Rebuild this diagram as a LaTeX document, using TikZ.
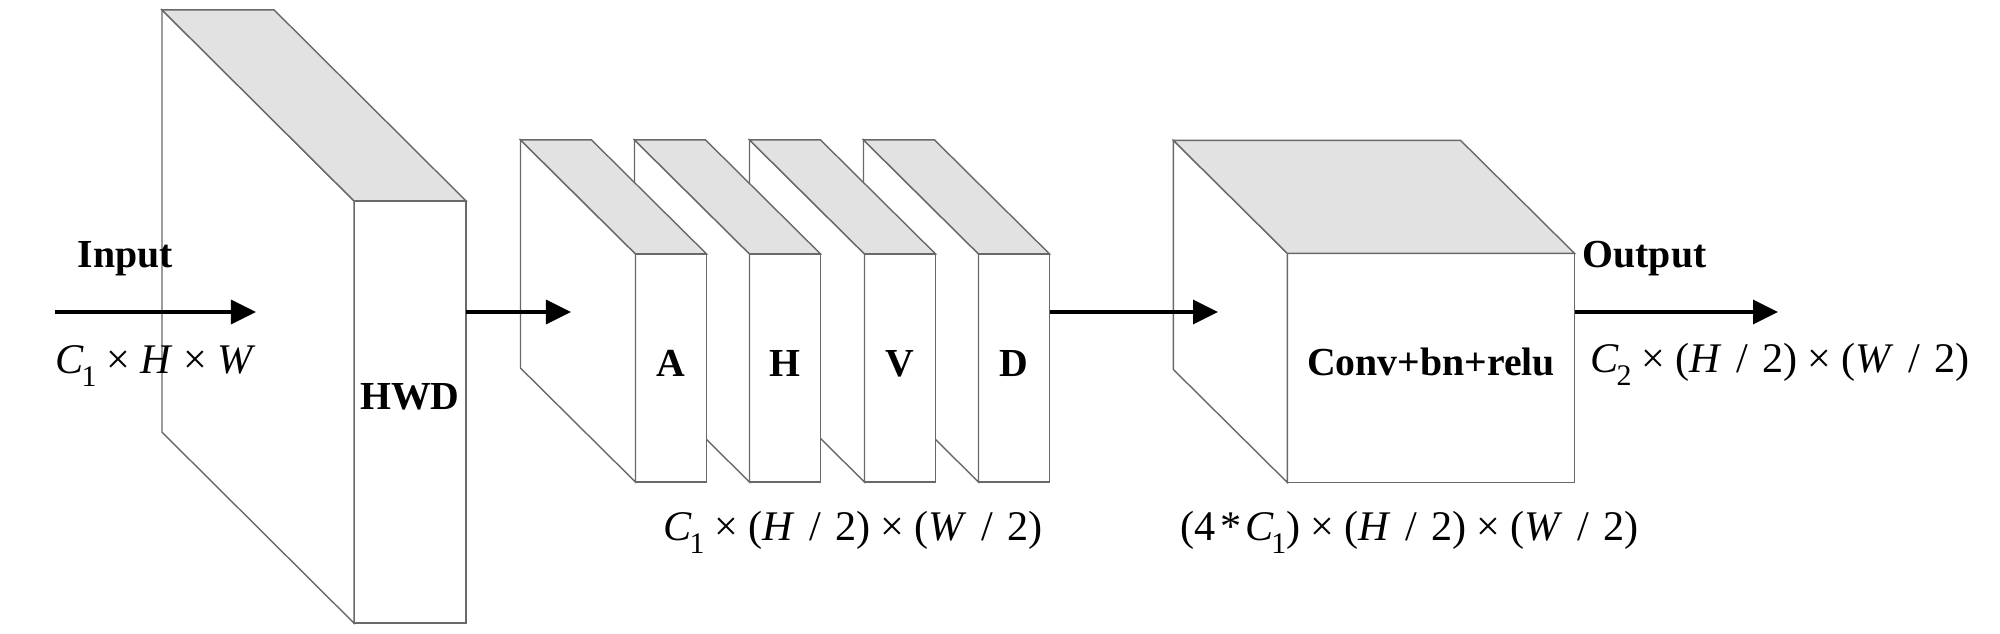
\documentclass[tikz,border=0pt]{standalone}
\usepackage{fontspec}
\setmainfont{Liberation Serif}
\usepackage{tikz}
\usetikzlibrary{arrows.meta,calc}
\definecolor{edgegray}{RGB}{105,105,105}
\definecolor{topgray}{RGB}{226,226,226}
\newcommand{\tms}{\hspace{0.24em}×\hspace{0.24em}}
\newcommand{\chsub}[1]{\kern-0.06em\raisebox{-0.3em}{\fontsize{8.5pt}{8.5pt}\selectfont #1}}
\newcommand{\halfdim}[1]{(\textit{#1}\hspace{0.34em}/\hspace{0.34em}2)}
% left and top faces behind a front face node
\newcommand{\slab}[3]{%
    \filldraw[boxline, fill=white] (#1.north west) -- ++(-#2,-#3) -- ($(#1.south west)+(-#2,-#3)$) -- (#1.south west) -- cycle;
    \filldraw[boxline, fill=topgray] (#1.north west) -- ++(-#2,-#3) -- ($(#1.north east)+(-#2,-#3)$) -- (#1.north east) -- cycle;
}
\tikzset{
    boxline/.style={draw=edgegray, line width=0.4pt},
    face/.style={boxline, fill=white, inner sep=0pt, outer sep=0pt},
    band/.style={face, minimum width=0.71cm, minimum height=2.28cm},
    flow/.style={line width=1pt, -{Triangle[length=2.5mm,width=2.4mm]}},
    lbl/.style={font=\fontsize{11.3pt}{13pt}\selectfont\bfseries, anchor=base, inner sep=0pt},
    dimlbl/.style={font=\fontsize{12pt}{14pt}\selectfont, anchor=base west, inner sep=0pt}
}

\begin{document}
\begin{tikzpicture}[x=0.01cm, y=-0.01cm]
    % Canvas
    \fill[white] (0,0) rectangle (2000,634);
    \useasboundingbox (0,0) rectangle (2000,634);

    % HWD block
    \node[face, minimum width=1.12cm, minimum height=4.22cm] (hwd) at (410,412) {};
    \slab{hwd}{192}{191}

    % Sub-band blocks, back to front
    \node[band] (bandD) at (1014,368) {};
    \slab{bandD}{115}{114}
    \node[band] (bandV) at (900,368) {};
    \slab{bandV}{115}{114}
    \node[band] (bandH) at (785,368) {};
    \slab{bandH}{115}{114}
    \node[band] (bandA) at (671,368) {};
    \slab{bandA}{115}{114}

    % Conv block
    \node[face, minimum width=2.87cm, minimum height=2.29cm] (conv) at (1431,368) {};
    \slab{conv}{114}{113}

    % Block texts
    \node[lbl] (hwdText) at (410,410) {HWD};
    \node[lbl] (txtA) at (671,377) {A};
    \node[lbl] (txtH) at (785,377) {H};
    \node[lbl] (txtV) at (900,377) {V};
    \node[lbl] (txtD) at (1014,377) {D};
    \node[lbl] (convText) at (1431,376) {Conv+bn+relu};

    % Arrows
    \coordinate (inStart) at (55,312);
    \coordinate (inEnd) at (256,312);
    \coordinate (bandIn) at (571,312);
    \coordinate (convIn) at (1218,312);
    \coordinate (outEnd) at (1778,312);
    \draw[flow] (inStart) -- (inEnd);
    \draw[flow] (bandIn -| hwd.east) -- (bandIn);
    \draw[flow] (convIn -| bandD.east) -- (convIn);
    \draw[flow] (outEnd -| conv.east) -- (outEnd);

    % Input / output
    \node[lbl, anchor=base west] (inLabel) at (77,268) {Input};
    \node[lbl, anchor=base west] (outLabel) at (1582,268) {Output};

    % Tensor sizes
    \node[dimlbl] (inDim) at (55,374) {\textit{C}\chsub{1}\tms\textit{H}\tms\textit{W}};
    \node[dimlbl] (bandDim) at (663,541) {\textit{C}\chsub{1}\tms\halfdim{H}\tms\halfdim{W}};
    \node[dimlbl] (convDim) at (1180,541) {(4\hspace{0.1em}*\hspace{0.1em}\textit{C}\chsub{1})\tms\halfdim{H}\tms\halfdim{W}};
    \node[dimlbl] (outDim) at (1590,373) {\textit{C}\chsub{2}\tms\halfdim{H}\tms\halfdim{W}};
\end{tikzpicture}
\end{document}
